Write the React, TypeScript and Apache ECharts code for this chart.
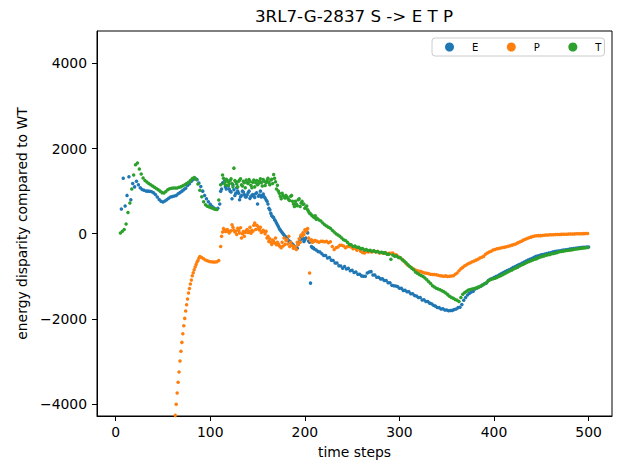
import React, { useEffect, useRef } from "react";
import * as echarts from "echarts";

const seriesNames = ["E", "P", "T"];
const seriesColors = ["#1f77b4", "#ff7f0e", "#2ca02c"];

const xTicks = [0, 100, 200, 300, 400, 500];
const yTicks = [-4000, -2000, 0, 2000, 4000];

// E: time steps 6, 8, ..., 500
const eStart = 6;
const eStep = 2;
const eValues = [
  580, 1300, 650, 900, 1340, 800, 1180, 1100, 1230, 1150,
  1080, 1040, 1020, 1005, 1000, 995, 985, 960, 920, 860,
  805, 760, 745, 770, 800, 835, 860, 876, 888, 900,
  940, 965, 1000, 1035, 1070, 1130, 1175, 1230, 1275, 1305,
  1270, 1190, 1110, 1000, 900, 820, 750, 690, 640, 605,
  575, 600, 700, 1050, 1200, 1100, 1250, 1050, 980, 1150,
  900, 1080, 950, 870, 1000, 920, 860, 960, 830, 900,
  880, 940, 700, 910, 860, 930, 840, 760, 600, 480,
  400, 330, 250, 170, 90, 30, -30, -80, -140, -180,
  -230, -270, -320, -340, -200, -60, -100, -140, 40, -170,
  -1160, -330, -360, -380, -420, -430, -470, -510, -510, -570,
  -560, -620, -630, -690, -690, -750, -760, -810, -770, -830,
  -810, -870, -860, -910, -900, -950, -950, -990, -1000, -1000,
  -920, -900, -890, -970, -970, -1020, -1020, -1060, -1060, -1100,
  -1100, -1150, -1150, -1210, -1220, -1230, -1240, -1280, -1280, -1330,
  -1325, -1365, -1360, -1410, -1410, -1450, -1460, -1500, -1500, -1555,
  -1550, -1590, -1590, -1630, -1645, -1680, -1700, -1730, -1735, -1770,
  -1760, -1790, -1790, -1810, -1805, -1800, -1780, -1770, -1735, -1725,
  -1660, -1560, -1500, -1440, -1400, -1370, -1350, -1300, -1275, -1250,
  -1235, -1200, -1175, -1155, -1100, -1070, -1050, -1030, -1005, -985,
  -960, -935, -910, -885, -865, -845, -820, -795, -775, -755,
  -730, -710, -690, -665, -640, -620, -600, -580, -560, -535,
  -525, -510, -495, -490, -478, -465, -455, -445, -432, -420,
  -412, -405, -398, -390, -385, -378, -370, -362, -356, -350,
  -342, -336, -330, -325, -318, -316, -313, -312,
];

// E: extra noisy points, time steps 111, 113, ..., 209
const eExtraStart = 111;
const eExtraStep = 2;
const eExtraValues = [
  1000, 1190, 1230, 1050, 1120, 1000, 820, 1030, 950, 1000,
  800, 900, 980, 870, 910, 1000, 880, 920, 850, 960,
  880, 1000, 900, 870, 800, 700, 560, 420, 380, 300,
  210, 120, 60, 0, -60, -100, -170, -200, -250, -300,
  -330, -250, -150, -120, -180, -100, 20, -200, -300, -330,
];

// T: time steps 5, 7, ..., 499
const tStart = 5;
const tStep = 2;
const tValues = [
  16, 60, 100, 230, 500, 720, 1050, 1380, 1620, 1660,
  1520, 1400, 1310, 1250, 1215, 1180, 1150, 1120, 1090, 1060,
  1030, 1000, 965, 955, 990, 1030, 1055, 1068, 1072, 1075,
  1075, 1090, 1105, 1125, 1150, 1180, 1210, 1250, 1295, 1320,
  1280, 1170, 1020, 870, 750, 680, 645, 625, 610, 595,
  575, 570, 790, 1150, 1380, 1200, 1280, 1130, 1250, 1180,
  1540, 1220, 1100, 1260, 1150, 1230, 1080, 1200, 1270, 1140,
  1210, 1100, 1250, 1180, 1290, 1120, 1230, 1200, 1300, 1150,
  1280, 1390, 1220, 1140, 950, 820, 900, 840, 870, 800,
  880, 760, 640, 700, 800, 640, 760, 700, 620, 560,
  480, 440, 400, 420, 360, 320, 300, 250, 210, 180,
  150, 130, 80, 40, 0, -30, -60, -100, -140, -160,
  -200, -250, -260, -300, -290, -320, -320, -350, -350, -380,
  -370, -400, -390, -410, -400, -425, -415, -440, -435, -450,
  -450, -480, -480, -600, -500, -530, -525, -560, -565, -610,
  -640, -680, -730, -770, -810, -845, -900, -930, -955, -980,
  -1005, -1040, -1080, -1130, -1170, -1220, -1250, -1280, -1300, -1315,
  -1340, -1360, -1390, -1430, -1470, -1495, -1515, -1545, -1560, -1590,
  -1500, -1420, -1380, -1350, -1320, -1310, -1300, -1285, -1275, -1260,
  -1240, -1215, -1190, -1165, -1130, -1090, -1070, -1055, -1045, -1030,
  -1005, -985, -962, -940, -915, -890, -870, -850, -825, -805,
  -785, -760, -735, -715, -695, -670, -650, -635, -615, -600,
  -585, -565, -548, -532, -520, -505, -495, -485, -472, -462,
  -453, -440, -425, -418, -410, -402, -396, -390, -384, -375,
  -366, -360, -352, -345, -338, -334, -328, -322,
];

// T: extra noisy points, time steps 114, 116, ..., 212
const tExtraStart = 114;
const tExtraStep = 2;
const tExtraValues = [
  1300, 1150, 1230, 1180, 1290, 1100, 1250, 1170, 1230, 1290,
  1120, 1200, 1260, 1180, 1230, 1080, 1260, 1200, 1150, 1240,
  1200, 1270, 1130, 1250, 1200, 1260, 1180, 1300, 1050, 1000,
  880, 950, 860, 900, 830, 780, 900, 700, 760, 660,
  820, 720, 690, 600, 650, 520, 470, 420, 380, 340,
];

// P: steep rise, time steps 63, 64, ..., 89
const pRiseStart = 63;
const pRiseStep = 1;
const pRiseValues = [
  -4265, -4006, -3739, -3490, -3246, -2988, -2762, -2551, -2347, -2159,
  -1988, -1814, -1666, -1533, -1392, -1284, -1181, -1087, -986, -915,
  -845, -782, -721, -664, -627, -570, -533,
];

// P: time steps 91, 93, ..., 499
const pMainStart = 91;
const pMainStep = 2;
const pMainValues = [
  -560, -590, -615, -635, -650, -660, -665, -665, -660, -630,
  -300, 40, 90, 60, 50, 60, 210, 80, 60, 130,
  20, -100, 50, 30, 100, 60, 10, 60, 250, 200,
  120, 150, 60, 50, 60, -60, -120, -250, -180, -100,
  -200, -280, -330, -290, -250, -140, -60, -200, -280, -330,
  -370, -250, -200, -60, -20, 60, 120, -920, -140, -180,
  -160, -180, -200, -175, -180, -190, -180, -210, -190, -300,
  -370, -330, -310, -270, -270, -290, -330, -300, -300, -310,
  -350, -340, -390, -360, -410, -440, -450, -420, -430, -420,
  -430, -400, -430, -420, -450, -440, -460, -440, -470, -460,
  -460, -455, -490, -500, -540, -570, -600, -650, -700, -740,
  -770, -800, -830, -850, -870, -880, -890, -910, -920, -930,
  -940, -950, -960, -955, -965, -975, -985, -995, -1000, -990,
  -1005, -1000, -995, -985, -950, -920, -870, -820, -790, -750,
  -727, -700, -680, -660, -640, -620, -600, -570, -550, -532,
  -480, -453, -430, -410, -380, -370, -355, -345, -335, -325,
  -318, -305, -295, -280, -268, -255, -240, -215, -195, -175,
  -150, -130, -110, -95, -80, -65, -55, -48, -45, -45,
  -42, -38, -32, -28, -25, -22, -22, -20, -20, -18,
  -15, -14, -12, -10, -8, -6, -5, -4, -3, -2,
  0, 0, 2, 3, 4,
];

// P: extra noisy points, time steps 112, 114, ..., 210
const pExtraStart = 112;
const pExtraStep = 2;
const pExtraValues = [
  -60, 120, 50, 100, 20, 70, 150, 40, -20, 80,
  140, 0, -60, 70, 30, 150, 80, 200, 100, 180,
  90, 30, 80, 0, -100, -180, -200, -150, -220, -260,
  -240, -300, -200, -100, -160, -240, -300, -270, -340, -300,
  -200, -120, -30, 20, 90, 100, -100, -160, -200, -170,
];

function toPoints(start: number, step: number, values: number[]) {
  return values.map((v, i) => [start + i * step, v]);
}

const FONT = "DejaVu Sans";

export default function App() {
  const ref = useRef<HTMLDivElement>(null);

  useEffect(() => {
    document.body.style.margin = "0";
    if (!ref.current) return;
    const chart = echarts.init(ref.current, undefined, { renderer: "svg" });

    const eData = toPoints(eStart, eStep, eValues).concat(
      toPoints(eExtraStart, eExtraStep, eExtraValues)
    );
    const pData = toPoints(pRiseStart, pRiseStep, pRiseValues)
      .concat(toPoints(pMainStart, pMainStep, pMainValues))
      .concat(toPoints(pExtraStart, pExtraStep, pExtraValues));
    const tData = toPoints(tStart, tStep, tValues).concat(
      toPoints(tExtraStart, tExtraStep, tExtraValues)
    );
    const dataSets = [eData, pData, tData];

    const axisCommon = {
      type: "value" as const,
      nameLocation: "middle" as const,
      nameTextStyle: { fontSize: 13.9, color: "#000", fontFamily: FONT },
      axisLine: { show: true, onZero: false, lineStyle: { color: "#000", width: 1 } },
      splitLine: { show: false },
    };

    chart.setOption({
      animation: false,
      textStyle: { fontFamily: FONT },
      title: {
        text: "3RL7-G-2837 S -> E T P",
        left: 354,
        top: 7,
        textAlign: "center",
        padding: 0,
        textStyle: { fontSize: 16.7, fontWeight: "normal", color: "#000", fontFamily: FONT },
      },
      grid: {
        left: 97,
        right: 6,
        top: 31,
        bottom: 48,
        show: true,
        borderColor: "#000",
        borderWidth: 1,
        backgroundColor: "transparent",
      },
      legend: {
        data: seriesNames,
        left: 432,
        top: 38,
        orient: "horizontal",
        icon: "circle",
        itemWidth: 9,
        itemHeight: 9,
        itemGap: 28.5,
        padding: [4, 3, 4, 13],
        borderColor: "#cccccc",
        borderWidth: 1,
        borderRadius: 3,
        backgroundColor: "rgba(255,255,255,0.8)",
        textStyle: { fontSize: 10, color: "#000", fontFamily: FONT, padding: [0, 0, 0, 13] },
      },
      xAxis: {
        ...axisCommon,
        min: -19.75,
        max: 524.75,
        name: "time steps",
        nameGap: 29,
        axisTick: { show: true, length: 5, customValues: xTicks, lineStyle: { color: "#000" } },
        axisLabel: { customValues: xTicks, margin: 9, fontSize: 13.9, color: "#000", fontFamily: FONT },
      },
      yAxis: {
        ...axisCommon,
        min: -4280,
        max: 4760,
        name: "energy disparity compared to WT",
        nameGap: 66,
        nameRotate: 90,
        axisTick: { show: true, length: 5, customValues: yTicks, lineStyle: { color: "#000" } },
        axisLabel: {
          customValues: yTicks,
          margin: 10,
          fontSize: 13.9,
          color: "#000",
          fontFamily: FONT,
          formatter: (v: number) => String(v).replace("-", "\u2212"),
        },
      },
      series: seriesNames.map((name, i) => ({
        name,
        type: "scatter",
        data: dataSets[i],
        symbol: "circle",
        symbolSize: 3.5,
        clip: true,
        itemStyle: { color: seriesColors[i], opacity: 1 },
        emphasis: { disabled: true },
      })),
    });

    return () => chart.dispose();
  }, []);

  return <div ref={ref} style={{ width: 618, height: 464 }} />;
}
